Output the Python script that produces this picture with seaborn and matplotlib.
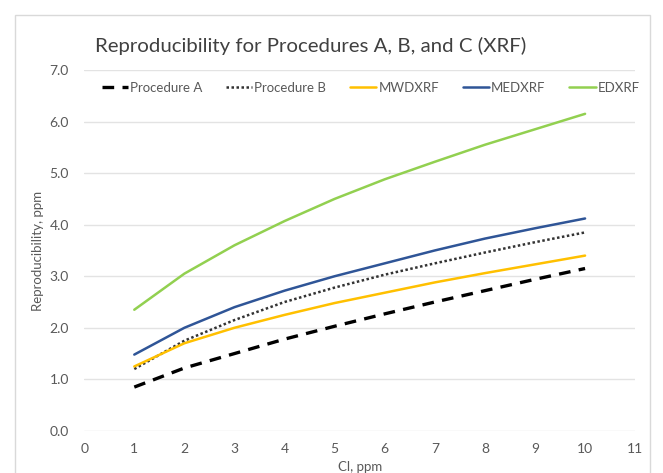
import pandas as pd
import numpy as np
import seaborn as sns
import matplotlib.pyplot as plt
from matplotlib.patches import Rectangle

cl_ppm = [1, 2, 3, 4, 5, 6, 7, 8, 9, 10]
proc_a = [0.85, 1.22, 1.50, 1.78, 2.03, 2.27, 2.50, 2.72, 2.94, 3.15]
proc_b = [1.20, 1.75, 2.15, 2.50, 2.78, 3.03, 3.25, 3.46, 3.66, 3.85]
mwdxrf = [1.25, 1.70, 2.00, 2.25, 2.48, 2.68, 2.88, 3.06, 3.23, 3.40]
medxrf = [1.48, 2.00, 2.40, 2.72, 3.00, 3.25, 3.50, 3.73, 3.93, 4.12]
edxrf = [2.35, 3.05, 3.60, 4.07, 4.50, 4.88, 5.22, 5.55, 5.85, 6.15]

series = {
    "Procedure A": proc_a,
    "Procedure B": proc_b,
    "MWDXRF": mwdxrf,
    "MEDXRF": medxrf,
    "EDXRF": edxrf,
}
colors = {"Procedure A": "black", "Procedure B": "#333333", "MWDXRF": "#FFC000",
          "MEDXRF": "#2F5597", "EDXRF": "#92D050"}
styles = {"Procedure A": (0, (3.5, 2.5)), "Procedure B": (0, (1, 1)), "MWDXRF": "-",
          "MEDXRF": "-", "EDXRF": "-"}

sns.set_style("white")
plt.rcParams['font.family'] = ['Lato', 'DejaVu Sans']

fig = plt.figure(figsize=(6.63, 4.73), dpi=100)
fig.patches.append(Rectangle((15 / 663, -0.05), 635 / 663, 1 - 15 / 473 + 0.05,
                             transform=fig.transFigure, fill=False, edgecolor="#d9d9d9", lw=1))
ax = fig.add_axes([0.127, 0.089, 0.831, 0.763])

for name, vals in series.items():
    df = pd.DataFrame({"x": cl_ppm, "y": vals})
    lw = 2.4 if name == "Procedure A" else 1.8
    sns.lineplot(data=df, x="x", y="y", ax=ax, color=colors[name], lw=lw,
                 linestyle=styles[name], label=name)

ax.set_xlim(0, 11)
ax.set_ylim(0, 7)
ax.set_xticks(range(0, 12))
ax.set_yticks(np.arange(0, 7.1, 1.0))
ax.set_yticklabels([f"{v:.1f}" for v in np.arange(0, 7.1, 1.0)])
ax.yaxis.grid(True, color="#e3e3e3", lw=1)
ax.xaxis.grid(False)
for s in ax.spines.values():
    s.set_visible(False)
ax.tick_params(axis="both", colors="#595959", labelsize=10, length=0)
ax.tick_params(axis="x", pad=9)
ax.tick_params(axis="y", pad=11)
ax.set_xlabel("Cl, ppm", color="#595959", fontsize=9.5, labelpad=4)
ax.set_ylabel("Reproducibility, ppm", color="#595959", fontsize=9.5, labelpad=4)

fig.text(95 / 663, 1 - 46 / 473, "Reproducibility for Procedures A, B, and C (XRF)",
         fontsize=14.7, color="#404040", va="center", ha="left")

leg = ax.legend(loc="center", bbox_to_anchor=(0.52, 0.95), ncol=5, frameon=False,
                fontsize=9.5, handlelength=2.0, columnspacing=1.8, handletextpad=0.15)
for t in leg.get_texts():
    t.set_color("#595959")

plt.savefig("out.png", dpi=100)
